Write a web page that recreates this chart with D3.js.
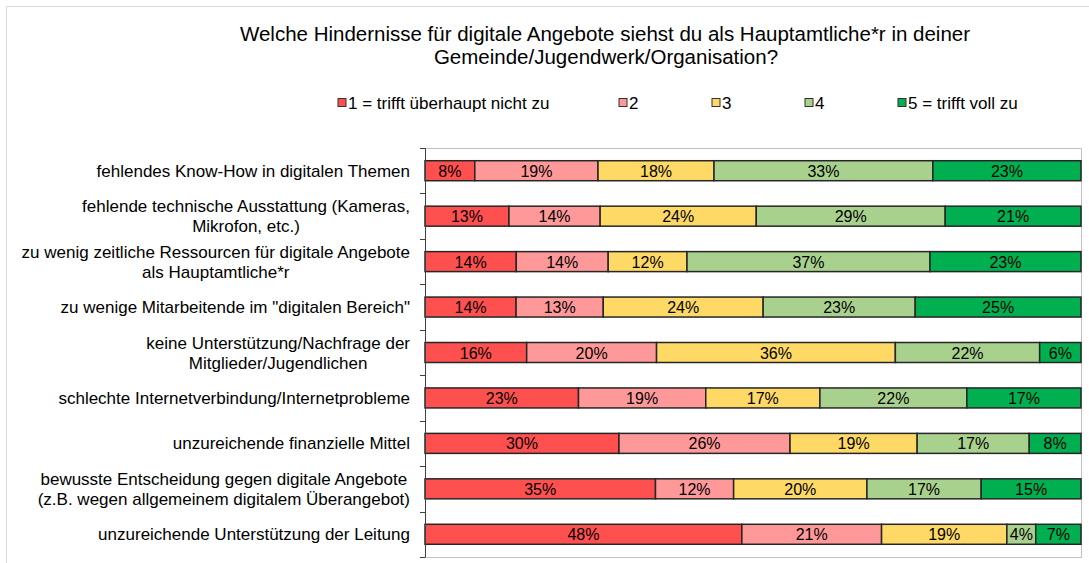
<!DOCTYPE html>
<html>
<head>
<meta charset="utf-8">
<script src="https://cdn.jsdelivr.net/npm/d3@7"></script>
<style>
  body { margin: 0; background: #fff; }
  text { font-family: "Liberation Sans", Arial, sans-serif; fill: #000; }
</style>
</head>
<body>
<svg id="chart"></svg>
<script>
// survey data (percent; labels show rounded values)
var categories = [
  ["fehlendes Know-How in digitalen Themen"],
  ["fehlende technische Ausstattung (Kameras,", "Mikrofon, etc.)"],
  ["zu wenig zeitliche Ressourcen für digitale Angebote", "als Hauptamtliche*r"],
  ["zu wenige Mitarbeitende im \"digitalen Bereich\""],
  ["keine Unterstützung/Nachfrage der", "Mitglieder/Jugendlichen"],
  ["schlechte Internetverbindung/Internetprobleme"],
  ["unzureichende finanzielle Mittel"],
  ["bewusste Entscheidung gegen digitale Angebote", "(z.B. wegen allgemeinem digitalem Überangebot)"],
  ["unzureichende Unterstützung der Leitung"]
];
var s1 = [7.6, 12.8, 13.9, 13.9, 15.5, 23.4, 29.6, 35.1, 48.3];
var s2 = [18.8, 13.9, 14.0, 13.3, 19.8, 19.4, 26.1, 11.9, 21.3];
var s3 = [17.7, 23.8, 12.0, 24.4, 36.4, 17.4, 19.4, 20.3, 19.1];
var s4 = [33.4, 28.8, 37.0, 23.2, 22.0, 22.4, 17.1, 17.4, 4.4];
var s5 = [22.6, 20.7, 23.0, 25.3, 6.3, 17.4, 7.9, 15.2, 6.9];
var seriesNames = ["1 = trifft überhaupt nicht zu", "2", "3", "4", "5 = trifft voll zu"];
var colors = ["#ff5050", "#ff9999", "#ffd966", "#a9d18e", "#00b050"];

var width = 1089, height = 563;
var margin = {top: 148, right: 8, bottom: 6, left: 425};

var svg = d3.select("#chart")
    .attr("width", width)
    .attr("height", height);

// outer chart border
svg.append("rect")
    .attr("x", 6.5).attr("y", 6.5)
    .attr("width", 1120).attr("height", 620)
    .style("fill", "none")
    .style("stroke", "#d9d9d9");

// title
var title = svg.append("text")
    .attr("text-anchor", "middle")
    .style("font-size", "20.5px");
title.append("tspan").attr("x", 605).attr("y", 41)
    .text("Welche Hindernisse für digitale Angebote siehst du als Hauptamtliche*r in deiner");
title.append("tspan").attr("x", 606).attr("y", 64)
    .text("Gemeinde/Jugendwerk/Organisation?");

// legend
var legendX = [338, 619, 712, 805, 898];
var legend = svg.append("g").selectAll("g")
    .data(seriesNames)
  .enter().append("g")
    .attr("transform", function(d, i) { return "translate(" + legendX[i] + ",103)"; });
legend.append("rect")
    .attr("x", 0).attr("y", -4.5)
    .attr("width", 8).attr("height", 8)
    .style("fill", function(d, i) { return colors[i]; })
    .style("stroke", "#333")
    .style("stroke-width", 1);
legend.append("text")
    .attr("x", 10).attr("y", 6)
    .style("font-size", "17px")
    .text(function(d) { return d; });

// data table for the stack
var rows = categories.map(function(c, i) {
  return {cat: i, v0: s1[i], v1: s2[i], v2: s3[i], v3: s4[i], v4: s5[i]};
});
var keys = ["v0", "v1", "v2", "v3", "v4"];
var stacked = d3.stack().keys(keys).offset(d3.stackOffsetExpand)(rows);

var x = d3.scaleLinear()
    .domain([0, 1])
    .range([margin.left, 1081]);

var y = d3.scaleBand()
    .domain(d3.range(categories.length))
    .range([margin.top, 557])
    .paddingInner(0.56)
    .paddingOuter(0.28);

// plot area border
svg.append("rect")
    .attr("x", x(0) + 0.5).attr("y", margin.top + 0.5)
    .attr("width", x(1) - x(0)).attr("height", 557 - margin.top)
    .style("fill", "none")
    .style("stroke", "#c0c0c0");

var layer = svg.append("g").selectAll("g")
    .data(stacked)
  .enter().append("g")
    .style("fill", function(d, i) { return colors[i]; });

layer.selectAll("rect")
    .data(function(d) { return d; })
  .enter().append("rect")
    .attr("x", function(d) { return x(d[0]); })
    .attr("y", function(d) { return y(d.data.cat); })
    .attr("width", function(d) { return x(d[1]) - x(d[0]); })
    .attr("height", y.bandwidth())
    .style("stroke", "#262626")
    .style("stroke-width", 1.5);

layer.selectAll("text")
    .data(function(d) { return d; })
  .enter().append("text")
    .attr("x", function(d) { return (x(d[0]) + x(d[1])) / 2; })
    .attr("y", function(d) { return y(d.data.cat) + y.bandwidth() / 2 + 6; })
    .attr("text-anchor", "middle")
    .style("font-size", "16px")
    .style("fill", "#000")
    .text(function(d) {
      var k = keys[d3.select(this.parentNode).datum().index];
      return Math.round(d.data[k]) + "%";
    });

// left axis with ticks at band boundaries
var axisG = svg.append("g");
axisG.append("line")
    .attr("x1", margin.left + 0.5).attr("x2", margin.left + 0.5)
    .attr("y1", margin.top).attr("y2", 557.5)
    .style("stroke", "#404040");
axisG.selectAll(".tick")
    .data(d3.range(categories.length + 1))
  .enter().append("line")
    .attr("x1", margin.left - 5).attr("x2", margin.left)
    .attr("y1", function(d) { return Math.round(margin.top + d * (557 - margin.top) / categories.length) + 0.5; })
    .attr("y2", function(d) { return Math.round(margin.top + d * (557 - margin.top) / categories.length) + 0.5; })
    .style("stroke", "#404040");

// category labels
var labels = svg.append("g").selectAll("text")
    .data(categories)
  .enter().append("text")
    .attr("text-anchor", "middle")
    .style("font-size", "17px");
labels.each(function(lines, i) {
  var cy = y(i) + y.bandwidth() / 2;
  var t = d3.select(this);
  lines.forEach(function(line, j) {
    t.append("tspan")
      .attr("x", 250)
      .attr("y", cy + 6 + (j - (lines.length - 1) / 2) * 20)
      .text(line);
  });
});

// right-align block: the widest line of each label ends at 410
labels.each(function() {
  var t = d3.select(this);
  var w = d3.max(t.selectAll("tspan").nodes(), function(n) { return n.getComputedTextLength(); });
  t.selectAll("tspan").attr("x", 410 - w / 2);
});
</script>
</body>
</html>
